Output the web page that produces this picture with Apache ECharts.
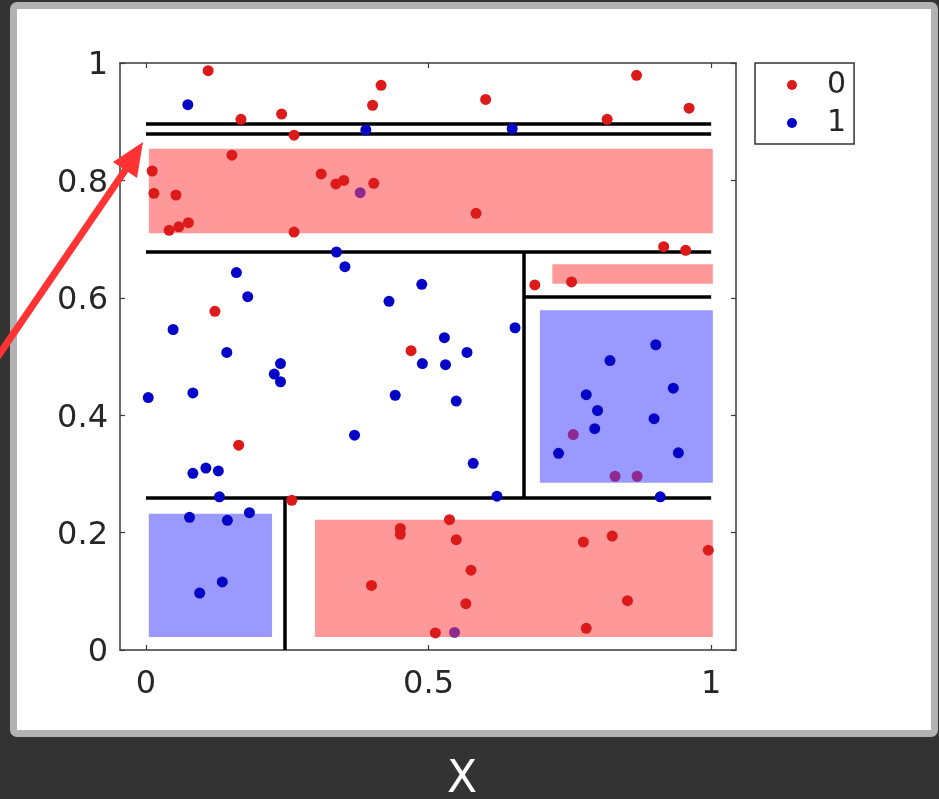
<!DOCTYPE html>
<html><head><meta charset="utf-8">
<script src="https://cdn.jsdelivr.net/npm/echarts/dist/echarts.min.js"></script>
<style>
html,body{margin:0;padding:0;background:#333333;width:939px;height:799px;overflow:hidden;}
#frame{position:absolute;left:10px;top:2px;width:928px;height:735px;box-sizing:border-box;border:7px solid #b2b2b2;border-radius:7px;background:#ffffff;}
#chart{position:absolute;left:0;top:0;width:939px;height:799px;}
</style></head><body>
<div id="frame"></div><div id="chart"></div>
<script>
// tick labels
const xTicks = [0, 0.5, 1];
const yTicks = [0, 0.2, 0.4, 0.6, 0.8, 1];
const legendNames = ['0', '1'];

// class 0 (red) samples [x, y]
const class0 = [
  [0.110,0.987],[0.168,0.904],[0.240,0.913],[0.262,0.877],[0.401,0.928],[0.416,0.962],
  [0.152,0.843],[0.011,0.816],[0.014,0.778],[0.053,0.775],[0.075,0.728],[0.058,0.721],
  [0.041,0.715],[0.262,0.712],[0.310,0.811],[0.336,0.794],[0.350,0.800],[0.403,0.795],
  [0.601,0.938],[0.868,0.979],[0.961,0.923],[0.816,0.904],[0.584,0.744],[0.916,0.687],
  [0.955,0.681],[0.688,0.622],[0.753,0.627],[0.122,0.577],[0.164,0.349],[0.469,0.510],
  [0.258,0.255],[0.450,0.207],[0.450,0.197],[0.399,0.110],[0.537,0.222],[0.549,0.188],
  [0.575,0.136],[0.566,0.079],[0.512,0.029],[0.774,0.184],[0.825,0.194],[0.995,0.170],
  [0.852,0.084],[0.779,0.037]
];
// class 1 (blue) samples [x, y]
const class1 = [
  [0.074,0.929],[0.389,0.886],[0.648,0.888],[0.337,0.678],[0.352,0.653],[0.160,0.643],
  [0.180,0.602],[0.048,0.546],[0.143,0.507],[0.238,0.488],[0.227,0.470],[0.238,0.457],
  [0.004,0.430],[0.083,0.438],[0.369,0.366],[0.430,0.594],[0.488,0.623],[0.489,0.488],
  [0.441,0.434],[0.528,0.532],[0.568,0.507],[0.530,0.486],[0.549,0.424],[0.653,0.549],
  [0.902,0.520],[0.821,0.493],[0.933,0.446],[0.779,0.435],[0.799,0.408],[0.899,0.394],
  [0.794,0.377],[0.730,0.335],[0.942,0.336],[0.579,0.318],[0.621,0.262],[0.910,0.261],
  [0.083,0.301],[0.106,0.310],[0.128,0.305],[0.130,0.261],[0.077,0.226],[0.144,0.221],
  [0.183,0.234],[0.135,0.116],[0.095,0.097]
];
// overlapping (purple-looking) samples [x, y]
const overlap = [[0.379,0.779],[0.756,0.367],[0.830,0.296],[0.869,0.296],[0.546,0.030]];

// decision boundaries: [[x1,y1],[x2,y2]]
const splitLines = [
  [[0,0.897],[1,0.897]],
  [[0,0.880],[1,0.880]],
  [[0,0.678],[1,0.678]],
  [[0.669,0.678],[0.669,0.259]],
  [[0.669,0.601],[1,0.601]],
  [[0,0.259],[1,0.259]],
  [[0.246,0.259],[0.246,0]]
];
// leaf regions: [x0, y0, x1, y1, class]
const leafRects = [
  [0.005,0.710,1.003,0.854,0],
  [0.719,0.624,1.003,0.657,0],
  [0.697,0.285,1.003,0.579,1],
  [0.005,0.022,0.223,0.232,1],
  [0.299,0.022,1.003,0.222,0]
];

const FONT = 'DejaVu Sans';
const axisCol = '#3a3a3a';
const chart = echarts.init(document.getElementById('chart'), null, {renderer:'canvas'});

function xAxisCfg(pos, labels){
  return {
    type:'value', min:-0.046, max:1.044, position:pos,
    axisLine:{show:true, onZero:false, lineStyle:{color:axisCol, width:1.5}},
    axisTick:{show:true, inside:true, length:5, customValues:xTicks, lineStyle:{color:axisCol, width:1.2}},
    axisLabel:{show:labels, customValues:xTicks, fontSize:32, fontFamily:FONT, color:'#262626', margin:19,
      formatter:v=>String(v)},
    splitLine:{show:false}
  };
}
function yAxisCfg(pos, labels){
  return {
    type:'value', min:0, max:1, position:pos,
    axisLine:{show:true, onZero:false, lineStyle:{color:axisCol, width:1.5}},
    axisTick:{show:true, inside:true, length:5, customValues:yTicks, lineStyle:{color:axisCol, width:1.2}},
    axisLabel:{show:labels, customValues:yTicks, fontSize:32, fontFamily:FONT, color:'#262626', margin:12,
      verticalAlign:'top', lineHeight:6, formatter:v=>String(v)},
    splitLine:{show:false}
  };
}

const option = {
  backgroundColor:'transparent',
  animation:false,
  grid:{left:120, top:63, width:616, height:587, containLabel:false},
  xAxis:[xAxisCfg('bottom', true), xAxisCfg('top', false)],
  yAxis:[yAxisCfg('left', true), yAxisCfg('right', false)],
  legend:{
    data:legendNames, orient:'vertical', left:755, top:63,
    padding:[7,8,6,32], itemWidth:10, itemHeight:10, itemGap:8, icon:'circle',
    borderColor:'#333', borderWidth:1.5, backgroundColor:'#fff', borderRadius:0,
    textStyle:{fontSize:30, fontFamily:FONT, color:'#262626', lineHeight:30, padding:[0,0,0,25]}
  },
  series:[
    {
      type:'custom', name:'regions', xAxisIndex:0, yAxisIndex:0, z:1,
      encode:{x:[0,2], y:[1,3]},
      data:leafRects,
      renderItem:function(params, api){
        const p0 = api.coord([api.value(0), api.value(3)]);
        const p1 = api.coord([api.value(2), api.value(1)]);
        return {type:'rect', shape:{x:p0[0], y:p0[1], width:p1[0]-p0[0], height:p1[1]-p0[1]},
          style:{fill: api.value(4) === 0 ? '#ff9999' : '#9999ff'}};
      }
    },
    {
      type:'lines', name:'splits', coordinateSystem:'cartesian2d', xAxisIndex:0, yAxisIndex:0, z:3,
      data:splitLines.map(c=>({coords:c})),
      lineStyle:{color:'#000', width:3.5, opacity:1}, silent:true
    },
    {type:'scatter', name:'0', data:class0, symbolSize:11, itemStyle:{color:'#dd1a1a', opacity:1}, z:4},
    {type:'scatter', name:'1', data:class1, symbolSize:11, itemStyle:{color:'#0505c8', opacity:1}, z:4},
    {type:'scatter', name:'overlap', data:overlap, symbolSize:11, itemStyle:{color:'#8e2a8e', opacity:1}, z:4}
  ],
  graphic:[
    {type:'line', z:100, shape:{x1:-6, y1:362, x2:126, y2:169}, style:{stroke:'#ff3333', lineWidth:7}},
    {type:'polygon', z:100, shape:{points:[[143,142],[113,162],[137,178]]}, style:{fill:'#ff3333'}},
    {type:'text', z:100, x:462, y:781, style:{text:'X', fill:'#ffffff', font:'44px "DejaVu Sans"', align:'center', verticalAlign:'middle'}}
  ]
};
chart.setOption(option);
</script>
</body></html>
